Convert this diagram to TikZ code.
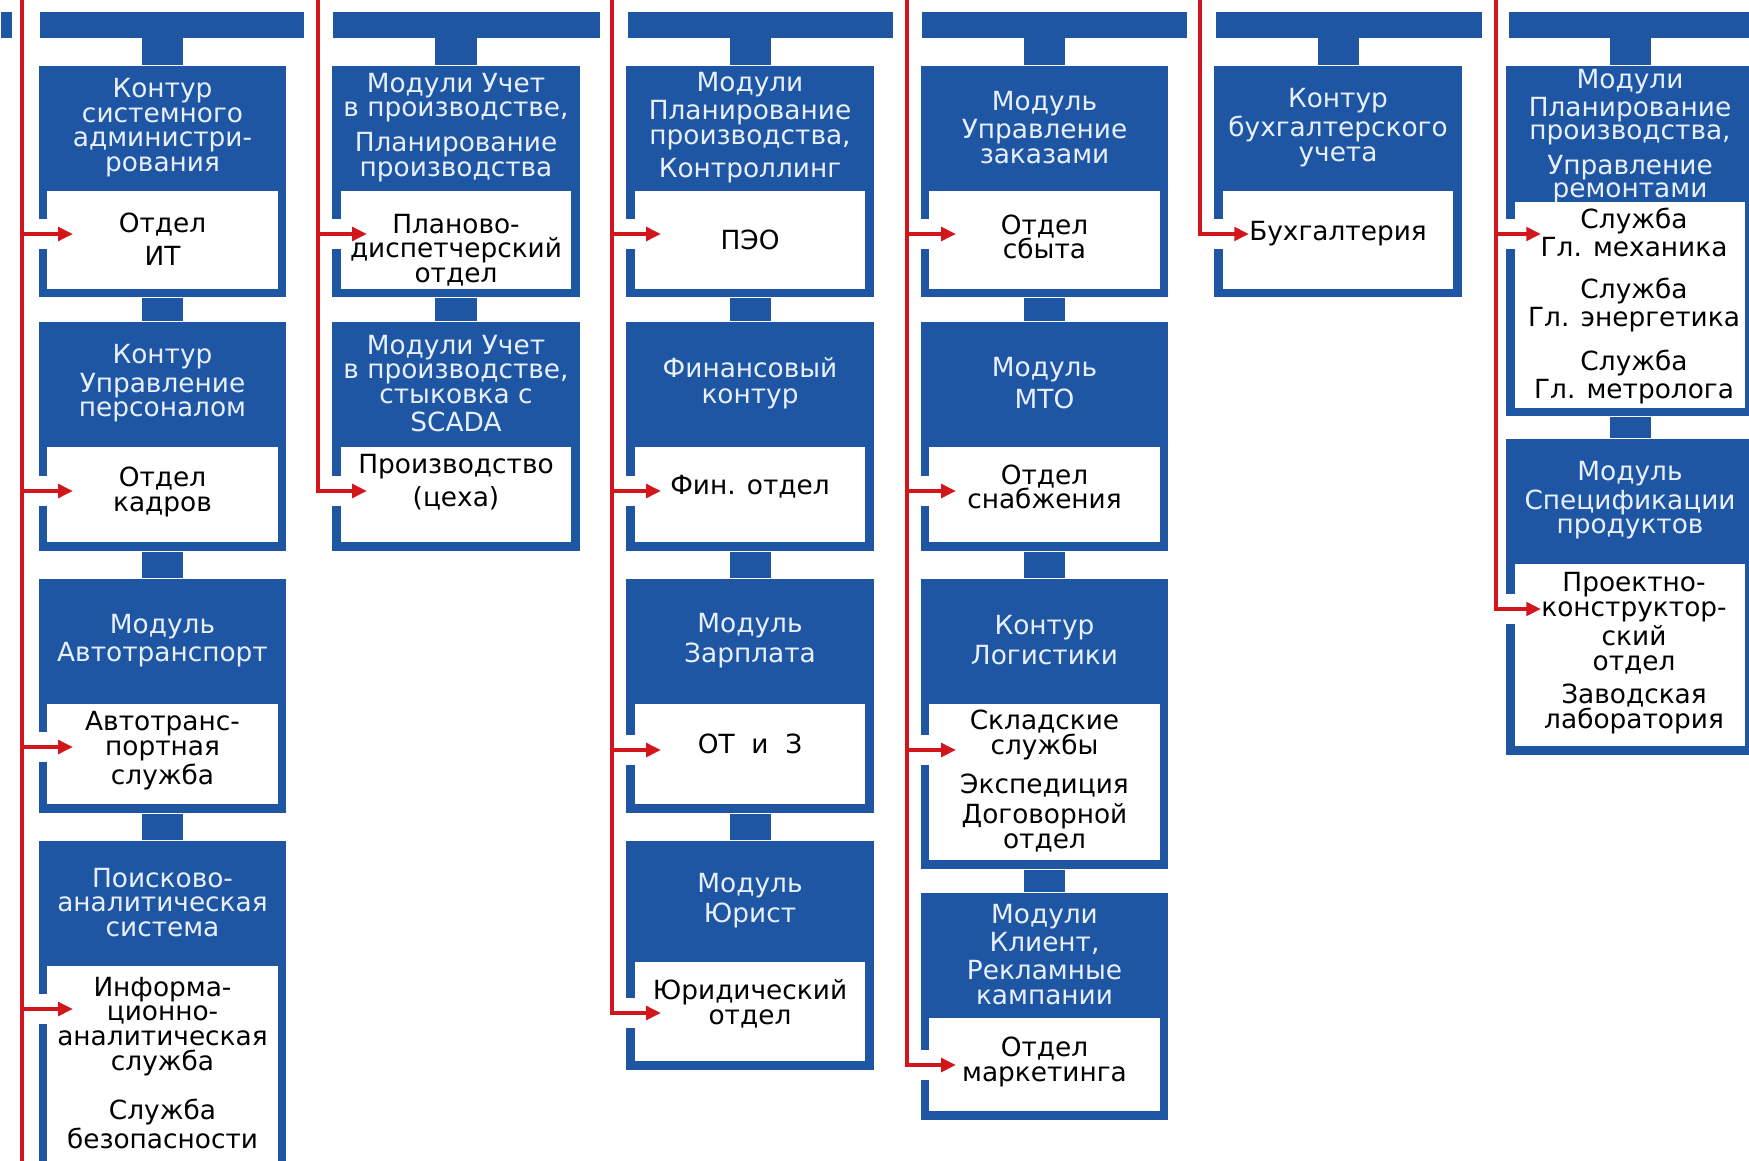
\documentclass[tikz,border=0pt]{standalone}
\usepackage{fontspec}
\newfontfamily\erpfont{DejaVu Sans}
\usetikzlibrary{arrows.meta,calc}
\definecolor{erpBlue}{RGB}{30, 86, 164}
\definecolor{erpRed}{RGB}{210, 22, 28}
\definecolor{erpHead}{RGB}{232, 240, 255}

\begin{document}
\begin{tikzpicture}[
  x=0.01cm, y=-0.01cm,
  bar/.style={fill=erpBlue, minimum height=0.26cm, inner sep=0pt, anchor=north west},
  blk/.style={fill=erpBlue, minimum width=2.47cm, inner sep=0pt, anchor=north},
  pane/.style={fill=white, minimum width=2.30cm, inner sep=0pt, anchor=north},
  head/.style={text=erpHead, align=center, inner sep=0pt,
               font=\erpfont\fontsize{7.5}{7}\selectfont},
  body/.style={text=black, align=center, inner sep=0pt,
               font=\erpfont\fontsize{7.5}{7}\selectfont},
  stem/.style={draw=erpBlue, line width=0.41cm},
  bus/.style={draw=erpRed, line width=1.1pt, line cap=rect},
  branch/.style={draw=erpRed, line width=1.1pt, -{Triangle[length=4.2pt, width=3.8pt]},
                 preaction={draw=white, line width=0.3cm, -}}
]
\useasboundingbox (0,0) rectangle (1749,1161);
\clip (0,0) rectangle (1749,1161);

% top bars
\node[bar, minimum width=0.11cm] (bar0) at (0,11) {};
\node[bar, minimum width=2.64cm] (bar1) at (39,11) {};
\node[bar, minimum width=2.67cm] (bar2) at (332,11) {};
\node[bar, minimum width=2.65cm] (bar3) at (627,11) {};
\node[bar, minimum width=2.65cm] (bar4) at (921,11) {};
\node[bar, minimum width=2.66cm] (bar5) at (1215,11) {};
\node[bar, minimum width=2.50cm] (bar6) at (1508,11) {};

% column 1
\node[blk, minimum height=2.31cm] (b1a) at (162.5,65) {};
\node[pane, minimum height=0.98cm] (w1a) at (162.5,190) {};
\node[blk, minimum height=2.29cm] (b1b) at (162.5,321) {};
\node[pane, minimum height=0.95cm] (w1b) at (162.5,446) {};
\node[blk, minimum height=2.34cm] (b1c) at (162.5,578) {};
\node[pane, minimum height=1.00cm] (w1c) at (162.5,703) {};
\node[blk, minimum height=3.45cm] (b1d) at (162.5,840) {};
\node[pane, minimum height=2.20cm] (w1d) at (162.5,965) {};

% column 2
\node[blk, minimum height=2.31cm] (b2a) at (456,65) {};
\node[pane, minimum height=0.98cm] (w2a) at (456,190) {};
\node[blk, minimum height=2.29cm] (b2b) at (456,321) {};
\node[pane, minimum height=0.95cm] (w2b) at (456,446) {};

% column 3
\node[blk, minimum height=2.31cm] (b3a) at (750,65) {};
\node[pane, minimum height=0.98cm] (w3a) at (750,190) {};
\node[blk, minimum height=2.29cm] (b3b) at (750,321) {};
\node[pane, minimum height=0.95cm] (w3b) at (750,446) {};
\node[blk, minimum height=2.34cm] (b3c) at (750,578) {};
\node[pane, minimum height=1.00cm] (w3c) at (750,703) {};
\node[blk, minimum height=2.29cm] (b3d) at (750,840) {};
\node[pane, minimum height=0.99cm] (w3d) at (750,961) {};

% column 4
\node[blk, minimum height=2.31cm] (b4a) at (1044.5,65) {};
\node[pane, minimum height=0.98cm] (w4a) at (1044.5,190) {};
\node[blk, minimum height=2.29cm] (b4b) at (1044.5,321) {};
\node[pane, minimum height=0.95cm] (w4b) at (1044.5,446) {};
\node[blk, minimum height=2.90cm] (b4c) at (1044.5,578) {};
\node[pane, minimum height=1.56cm] (w4c) at (1044.5,703) {};
\node[blk, minimum height=2.27cm] (b4d) at (1044.5,892) {};
\node[pane, minimum height=0.93cm] (w4d) at (1044.5,1017) {};

% column 5
\node[blk, minimum height=2.31cm] (b5a) at (1338,65) {};
\node[pane, minimum height=0.98cm] (w5a) at (1338,190) {};

% column 6
\node[blk, minimum height=3.50cm] (b6a) at (1630,65) {};
\node[pane, minimum height=2.06cm] (w6a) at (1630,201) {};
\node[blk, minimum height=3.16cm] (b6b) at (1630,438) {};
\node[pane, minimum height=1.82cm] (w6b) at (1630,563) {};

\draw[stem] (b1a.north |- bar1.south) -- (b1a.north);
\draw[stem] (b1a.south) -- (b1b.north);
\draw[stem] (b1b.south) -- (b1c.north);
\draw[stem] (b1c.south) -- (b1d.north);
\draw[stem] (b2a.north |- bar2.south) -- (b2a.north);
\draw[stem] (b2a.south) -- (b2b.north);
\draw[stem] (b3a.north |- bar3.south) -- (b3a.north);
\draw[stem] (b3a.south) -- (b3b.north);
\draw[stem] (b3b.south) -- (b3c.north);
\draw[stem] (b3c.south) -- (b3d.north);
\draw[stem] (b4a.north |- bar4.south) -- (b4a.north);
\draw[stem] (b4a.south) -- (b4b.north);
\draw[stem] (b4b.south) -- (b4c.north);
\draw[stem] (b4c.south) -- (b4d.north);
\draw[stem] (b5a.north |- bar5.south) -- (b5a.north);
\draw[stem] (b6a.north |- bar6.south) -- (b6a.north);
\draw[stem] (b6a.south) -- (b6b.north);

% red feed lines
\coordinate (bus1) at (22,0);
\coordinate (bus1end) at (22,1161);
\coordinate (bus2) at (318,0);
\coordinate (bus3) at (612,0);
\coordinate (bus4) at (907,0);
\coordinate (bus5) at (1200,0);
\coordinate (bus6) at (1496,0);
\coordinate (a1a) at (73,234);
\coordinate (a1b) at (73,491);
\coordinate (a1c) at (73,747);
\coordinate (a1d) at (73,1009);
\coordinate (a2a) at (367,234);
\coordinate (a2b) at (367,491);
\coordinate (a3a) at (661,234);
\coordinate (a3b) at (661,491);
\coordinate (a3c) at (661,750);
\coordinate (a3d) at (661,1013);
\coordinate (a4a) at (956,234);
\coordinate (a4b) at (956,491);
\coordinate (a4c) at (956,750);
\coordinate (a4d) at (956,1065);
\coordinate (a5a) at (1249,234);
\coordinate (a6a) at (1541,234);
\coordinate (a6b) at (1541,609);

\draw[branch] (bus1 |- a1a) -- (a1a);
\draw[branch] (bus1 |- a1b) -- (a1b);
\draw[branch] (bus1 |- a1c) -- (a1c);
\draw[branch] (bus1 |- a1d) -- (a1d);
\draw[branch] (bus2 |- a2a) -- (a2a);
\draw[branch] (bus2 |- a2b) -- (a2b);
\draw[branch] (bus3 |- a3a) -- (a3a);
\draw[branch] (bus3 |- a3b) -- (a3b);
\draw[branch] (bus3 |- a3c) -- (a3c);
\draw[branch] (bus3 |- a3d) -- (a3d);
\draw[branch] (bus4 |- a4a) -- (a4a);
\draw[branch] (bus4 |- a4b) -- (a4b);
\draw[branch] (bus4 |- a4c) -- (a4c);
\draw[branch] (bus4 |- a4d) -- (a4d);
\draw[branch] (bus5 |- a5a) -- (a5a);
\draw[branch] (bus6 |- a6a) -- (a6a);
\draw[branch] (bus6 |- a6b) -- (a6b);

\draw[bus] (bus1) -- (bus1end);
\draw[bus] (bus2) -- (bus2 |- a2b);
\draw[bus] (bus3) -- (bus3 |- a3d);
\draw[bus] (bus4) -- (bus4 |- a4d);
\draw[bus] (bus5) -- (bus5 |- a5a);
\draw[bus] (bus6) -- (bus6 |- a6b);

% module headers
\node[head] (h1a) at ($(b1a.north)!.5!(w1a.north)$) {Контур\\системного\\администри-\\рования};
\node[head] (h1b) at ($(b1b.north)!.5!(w1b.north)$) {Контур\\Управление\\персоналом};
\node[head] (h1c) at ($(b1c.north)!.5!(w1c.north)$) {Модуль\\Автотранспорт};
\node[head] (h1d) at ($(b1d.north)!.5!(w1d.north)$) {Поисково-\\аналитическая\\система};
\node[head] (h2a) at ($(b2a.north)!.5!(w2a.north)$) {Модули Учет\\в производстве,\\[2pt]Планирование\\производства};
\node[head] (h2b) at ($(b2b.north)!.5!(w2b.north)$) {Модули Учет\\в производстве,\\стыковка с\\[1pt]SCADA};
\node[head] (h3a) at ($(b3a.north)!.5!(w3a.north)$) {Модули\\Планирование\\производства,\\[1.5pt]Контроллинг};
\node[head] (h3b) at ($(b3b.north)!.5!(w3b.north)$) {Финансовый\\[0.5pt]контур};
\node[head] (h3c) at ($(b3c.north)!.5!(w3c.north)$) {Модуль\\[0.5pt]Зарплата};
\node[head] (h3d) at ($(b3d.north)!.5!(w3d.north)$) {Модуль\\[0.5pt]Юрист};
\node[head] (h4a) at ($(b4a.north)!.5!(w4a.north)$) {Модуль\\Управление\\заказами};
\node[head] (h4b) at ($(b4b.north)!.5!(w4b.north)$) {Модуль\\[1pt]МТО};
\node[head] (h4c) at ($(b4c.north)!.5!(w4c.north)$) {Контур\\[0.5pt]Логистики};
\node[head] (h4d) at ($(b4d.north)!.5!(w4d.north)$) {Модули\\Клиент,\\[1pt]Рекламные\\кампании};
\node[head] (h5a) at ($(b5a.north)!.5!(w5a.north)$) {Контур\\бухгалтерского\\учета};
\node[head, font=\erpfont\fontsize{7.5}{6.5}\selectfont] (h6a) at ($(b6a.north)!.5!(w6a.north)+(0,3)$) {Модули\\Планирование\\производства,\\[2pt]Управление\\ремонтами};
\node[head] (h6b) at ($(b6b.north)!.5!(w6b.north)$) {Модуль\\Спецификации\\продуктов};

% departments
\node[body] (t1a) at (162.5,239) {Отдел\\[2.5pt]ИТ};
\node[body] (t1b) at (162.5,492) {Отдел\\кадров};
\node[body] (t1c) at (162.5,751) {Автотранс-\\портная\\служба};
\node[body] (t1d) at (162.5,1063) {Информа-\\ционно-\\аналитическая\\служба\\[5.5pt]Служба\\безопасности};
\node[body] (t2a) at (456,250) {Планово-\\диспетчерский\\отдел};
\node[body] (t2b) at (456,482) {Производство\\[1pt](цеха)};
\node[body] (t3a) at (750,240) {ПЭО};
\node[body] (t3b) at (750,487) {Фин. отдел};
\node[body] (t3c) at (750,744) {ОТ\ \ и\ \ З};
\node[body] (t3d) at (750,1004) {Юридический\\отдел};
\node[body] (t4a) at (1044.5,237) {Отдел\\сбыта};
\node[body] (t4b) at (1044.5,487) {Отдел\\снабжения};
\node[body] (t4c) at (1044.5,781) {Складские\\службы\\[3pt]Экспедиция\\[1.5pt]Договорной\\отдел};
\node[body] (t4d) at (1044.5,1062) {Отдел\\маркетинга};
\node[body] (t5a) at (1338,234) {Бухгалтерия};
\node[body] (t6a) at (1634,306) {Служба\\Гл. механика\\[5pt]Служба\\Гл. энергетика\\[4pt]Служба\\Гл. метролога};
\node[body] (t6b) at (1634,653) {Проектно-\\конструктор-\\ский\\отдел\\[2.5pt]Заводская\\лаборатория};
\end{tikzpicture}
\end{document}
